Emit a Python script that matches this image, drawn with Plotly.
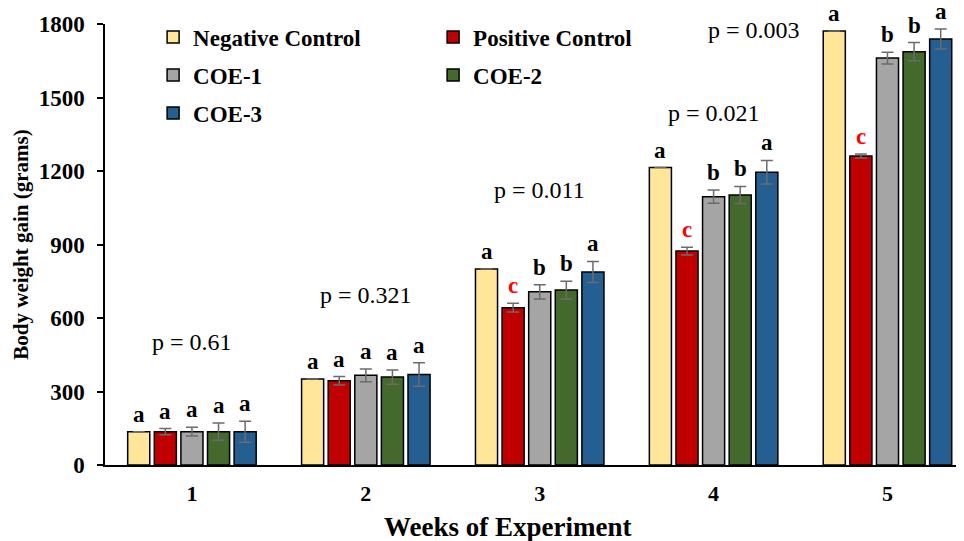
import plotly.graph_objects as go

weeks = ["1", "2", "3", "4", "5"]
groups = ["Negative Control", "Positive Control", "COE-1", "COE-2", "COE-3"]
colors = ["#FFE699", "#C00000", "#A5A5A5", "#44692C", "#255E91"]

neg_control = [136, 351, 800, 1214, 1771]
pos_control = [136, 344, 642, 873, 1261]
coe1 = [136, 366, 707, 1095, 1661]
coe2 = [136, 359, 714, 1102, 1687]
coe3 = [136, 369, 788, 1195, 1739]

neg_err = [0, 0, 0, 0, 0]
pos_err = [13, 17, 18, 16, 8]
coe1_err = [18, 26, 29, 27, 24]
coe2_err = [35, 29, 36, 35, 37]
coe3_err = [43, 48, 43, 48, 41]

letters_neg = ["a", "a", "a", "a", "a"]
letters_pos = ["a", "a", "c", "c", "c"]
letters_coe1 = ["a", "a", "b", "b", "b"]
letters_coe2 = ["a", "a", "b", "b", "b"]
letters_coe3 = ["a", "a", "a", "a", "a"]

p_values = ["p = 0.61", "p = 0.321", "p = 0.011", "p = 0.021", "p = 0.003"]

values = [neg_control, pos_control, coe1, coe2, coe3]
errors = [neg_err, pos_err, coe1_err, coe2_err, coe3_err]
letters = [letters_neg, letters_pos, letters_coe1, letters_coe2, letters_coe3]

FONT = "Liberation Serif"
xs = list(range(len(weeks)))
legend_of = ["legend", "legend", "legend2", "legend2", "legend3"]

fig = go.Figure()
for i, g in enumerate(groups):
    fig.add_trace(go.Bar(
        x=xs, y=values[i], name="<b>%s</b>" % g,
        marker=dict(color=colors[i], line=dict(color="black", width=1.5)),
        error_y=dict(type="data", array=errors[i], visible=True,
                     color="#6b6b6b", thickness=1.5, width=6),
        legend=legend_of[i],
    ))

bargap = 0.235
slot = (1 - bargap) / len(groups)
annotations = []
for i in range(len(groups)):
    for j in xs:
        lt = letters[i][j]
        annotations.append(dict(
            x=j + (i - 2) * slot, y=values[i][j] + errors[i][j],
            xref="x", yref="y", text="<b>%s</b>" % lt, showarrow=False,
            yanchor="bottom", yshift=3,
            font=dict(family=FONT, size=23, color="#FF0000" if lt == "c" else "black"),
        ))

p_pos = [(0, 502), (1, 694), (2, 1122), (3, 1437), (3.23, 1776)]
for (px, py), txt in zip(p_pos, p_values):
    annotations.append(dict(x=px, y=py, xref="x", yref="y", text=txt,
                            showarrow=False, font=dict(family=FONT, size=24, color="black")))

# x-axis title (placed off-centre as in the original)
annotations.append(dict(x=0.468, y=-0.1406, xref="paper", yref="paper",
                        text="<b>Weeks of Experiment</b>", showarrow=False,
                        xanchor="center", yanchor="middle",
                        font=dict(family=FONT, size=27, color="black")))

legend_common = dict(orientation="h", x=0.056, xanchor="left", yanchor="middle",
                     entrywidth=235, entrywidthmode="pixels", bgcolor="rgba(0,0,0,0)",
                     font=dict(family=FONT, size=23, color="black"), itemclick=False)

# the page body has an 8px margin; the figure is sized/margined to compensate
fig.update_layout(
    width=956, height=533,
    margin=dict(l=97, r=0, t=16, b=76),
    paper_bgcolor="white", plot_bgcolor="white",
    barmode="group", bargap=bargap, bargroupgap=0.17,
    font=dict(family=FONT, color="black"),
    showlegend=True,
    legend=dict(legend_common, y=0.9705),
    legend2=dict(legend_common, y=0.884),
    legend3=dict(legend_common, y=0.798),
    annotations=annotations,
    xaxis=dict(range=[-0.5, 4.44], tickvals=xs, ticktext=["<b>%s</b>" % w for w in weeks],
               ticks="", showline=True, linecolor="black", linewidth=1.5,
               showgrid=False, zeroline=False, ticklabelstandoff=8,
               tickfont=dict(family=FONT, size=22, color="black")),
    xaxis2=dict(range=[-0.5, 4.44], overlaying="x", anchor="y", side="bottom",
                tickvals=[-0.5, 2.5], ticks="outside", ticklen=6, tickwidth=1.5,
                tickcolor="black", showticklabels=False, showline=False,
                showgrid=False, zeroline=False),
    yaxis=dict(range=[0, 1800], tickvals=[0, 300, 600, 900, 1200, 1500, 1800],
               ticktext=["<b>%d</b>" % v for v in [0, 300, 600, 900, 1200, 1500, 1800]],
               ticks="outside", ticklen=6, tickwidth=1.5, tickcolor="black",
               showline=True, linecolor="black", linewidth=1.5,
               showgrid=False, zeroline=False, ticklabelstandoff=8,
               tickfont=dict(family=FONT, size=23, color="black"),
               title=dict(text="<b>Body weight gain (grams)</b>", standoff=4,
                          font=dict(family=FONT, size=21, color="black"))),
)

fig.write_html("out.html")
